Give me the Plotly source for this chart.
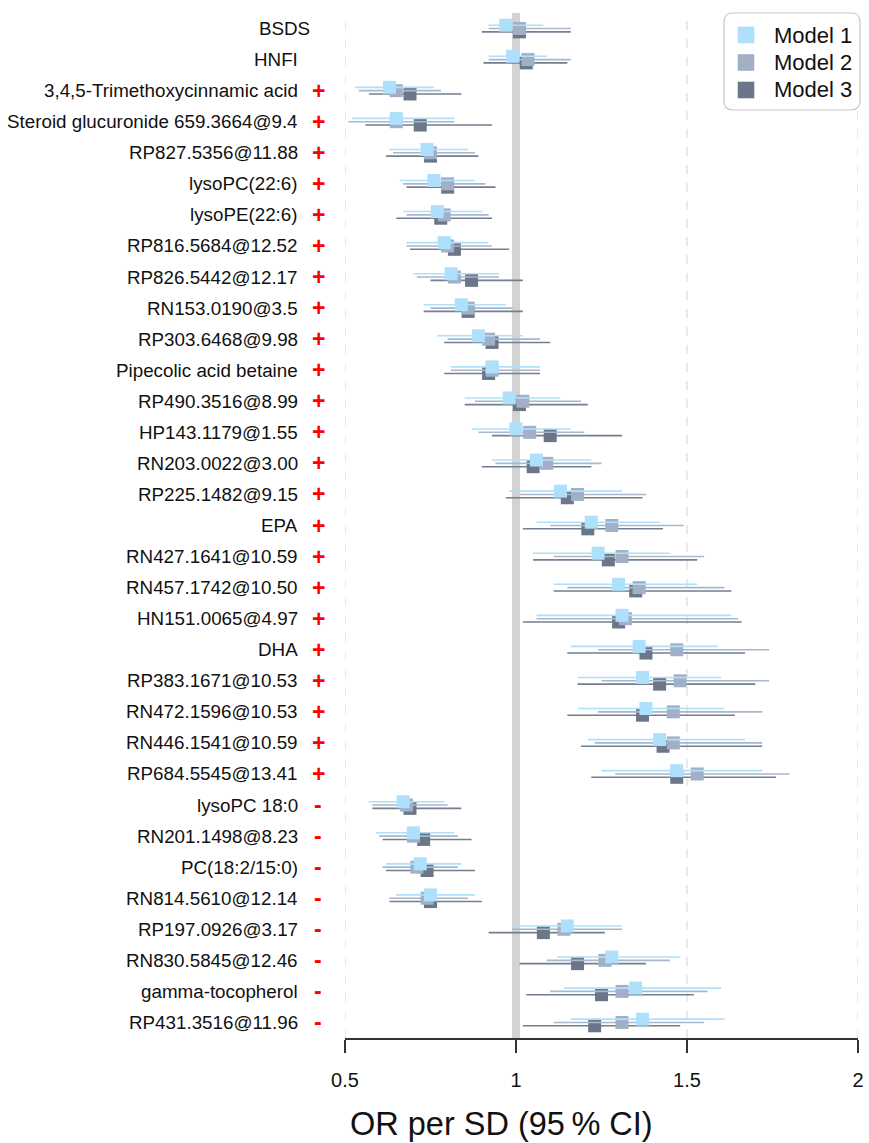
import plotly.graph_objects as go

labels = ["BSDS", "HNFI", "3,4,5-Trimethoxycinnamic acid", "Steroid glucuronide 659.3664@9.4",
          "RP827.5356@11.88", "lysoPC(22:6)", "lysoPE(22:6)", "RP816.5684@12.52",
          "RP826.5442@12.17", "RN153.0190@3.5", "RP303.6468@9.98", "Pipecolic acid betaine",
          "RP490.3516@8.99", "HP143.1179@1.55", "RN203.0022@3.00", "RP225.1482@9.15", "EPA",
          "RN427.1641@10.59", "RN457.1742@10.50", "HN151.0065@4.97", "DHA",
          "RP383.1671@10.53", "RN472.1596@10.53", "RN446.1541@10.59", "RP684.5545@13.41",
          "lysoPC 18:0", "RN201.1498@8.23", "PC(18:2/15:0)", "RN814.5610@12.14",
          "RP197.0926@3.17", "RN830.5845@12.46", "gamma-tocopherol", "RP431.3516@11.96"]
signs = ["", ""] + ["+"] * 23 + ["-"] * 8

m1_or = [0.97, 0.99, 0.63, 0.65, 0.74, 0.76, 0.77, 0.79, 0.81, 0.84, 0.89, 0.93, 0.98, 1.00, 1.06, 1.13, 1.22,
         1.24, 1.30, 1.31, 1.36, 1.37, 1.38, 1.42, 1.47, 0.67, 0.70, 0.72, 0.75, 1.15, 1.28, 1.35, 1.37]
m1_lo = [0.92, 0.92, 0.53, 0.52, 0.63, 0.66, 0.67, 0.68, 0.70, 0.73, 0.77, 0.81, 0.85, 0.87, 0.93, 0.98, 1.06,
         1.05, 1.11, 1.06, 1.16, 1.18, 1.18, 1.21, 1.25, 0.57, 0.59, 0.62, 0.65, 1.00, 1.12, 1.14, 1.16]
m1_hi = [1.08, 1.09, 0.76, 0.82, 0.86, 0.88, 0.90, 0.92, 0.95, 0.97, 1.02, 1.07, 1.13, 1.16, 1.22, 1.31, 1.42,
         1.45, 1.53, 1.63, 1.59, 1.60, 1.61, 1.67, 1.72, 0.79, 0.82, 0.84, 0.88, 1.31, 1.48, 1.60, 1.61]

m2_or = [1.01, 1.035, 0.65, 0.65, 0.75, 0.80, 0.79, 0.80, 0.82, 0.86, 0.92, 0.93, 1.02, 1.04, 1.09, 1.18, 1.28,
         1.31, 1.36, 1.32, 1.47, 1.48, 1.46, 1.46, 1.53, 0.68, 0.70, 0.71, 0.74, 1.14, 1.26, 1.31, 1.31]
m2_lo = [0.92, 0.92, 0.54, 0.51, 0.64, 0.67, 0.68, 0.68, 0.71, 0.75, 0.80, 0.81, 0.88, 0.89, 0.94, 1.01, 1.10,
         1.11, 1.15, 1.06, 1.24, 1.25, 1.24, 1.23, 1.29, 0.58, 0.60, 0.61, 0.63, 0.99, 1.09, 1.10, 1.11]
m2_hi = [1.16, 1.16, 0.78, 0.82, 0.88, 0.91, 0.92, 0.93, 0.95, 0.99, 1.07, 1.07, 1.19, 1.20, 1.25, 1.38, 1.49,
         1.55, 1.61, 1.65, 1.74, 1.74, 1.72, 1.72, 1.80, 0.80, 0.83, 0.83, 0.86, 1.31, 1.45, 1.56, 1.55]

m3_or = [1.01, 1.03, 0.69, 0.72, 0.75, 0.80, 0.78, 0.82, 0.87, 0.86, 0.93, 0.92, 1.01, 1.10, 1.05, 1.15, 1.21,
         1.27, 1.35, 1.30, 1.38, 1.42, 1.37, 1.43, 1.47, 0.69, 0.73, 0.74, 0.75, 1.08, 1.18, 1.25, 1.23]
m3_lo = [0.90, 0.905, 0.57, 0.56, 0.62, 0.68, 0.65, 0.69, 0.75, 0.73, 0.79, 0.79, 0.85, 0.93, 0.90, 0.97, 1.02,
         1.05, 1.11, 1.02, 1.15, 1.18, 1.15, 1.19, 1.22, 0.58, 0.61, 0.62, 0.63, 0.92, 1.01, 1.03, 1.02]
m3_hi = [1.16, 1.15, 0.84, 0.93, 0.89, 0.94, 0.93, 0.98, 1.02, 1.02, 1.10, 1.07, 1.21, 1.31, 1.22, 1.37, 1.43,
         1.53, 1.63, 1.66, 1.67, 1.70, 1.64, 1.72, 1.76, 0.84, 0.87, 0.88, 0.90, 1.26, 1.38, 1.52, 1.48]

x_ticks = [0.5, 1, 1.5, 2]
x_tick_text = ["0.5", "1", "1.5", "2"]
model_names = ["Model 1", "Model 2", "Model 3"]

FONT = "Liberation Sans, Arial, sans-serif"
OFS = 0  # page body margin (removed via post_script)
W, H = 869 - OFS, 1143 - OFS
ML, MR, MT = 345 - OFS, 11, 13 - OFS
MB = H - (1038 - OFS)
PW, PH = W - ML - MR, H - MT - MB
n = len(labels)
rows = list(range(n))
off = 0.107


def px(page_x):
    return (page_x - OFS - ML) / PW


def py(page_y):
    return (H - MB - (page_y - OFS)) / PH


models = [
    dict(name=model_names[0], orv=m1_or, lo=m1_lo, hi=m1_hi, dy=-off, mcol="#AEE0FC", lcol="#AEE0FC"),
    dict(name=model_names[1], orv=m2_or, lo=m2_lo, hi=m2_hi, dy=0.0, mcol="#A2B0C7", lcol="#AAB6CA"),
    dict(name=model_names[2], orv=m3_or, lo=m3_lo, hi=m3_hi, dy=off, mcol="#6B7688", lcol="#737E8F"),
]

fig = go.Figure()
for m in reversed(models):
    xs, ys = [], []
    for i in rows:
        xs += [m["lo"][i], m["hi"][i], None]
        ys += [i + m["dy"], i + m["dy"], None]
    fig.add_trace(go.Scatter(x=xs, y=ys, mode="lines", line=dict(color=m["lcol"], width=1.6),
                             showlegend=False, hoverinfo="skip"))
    fig.add_trace(go.Scatter(x=m["orv"], y=[i + m["dy"] for i in rows], mode="markers",
                             marker=dict(symbol="square", size=13, color=m["mcol"], line=dict(width=0)),
                             showlegend=False, name=m["name"]))

# dashed vertical gridlines (including the range edges)
for t in x_ticks:
    if t == 1:
        continue
    fig.add_shape(type="line", x0=t, x1=t, y0=0, y1=1, xref="x", yref="paper",
                  line=dict(color="#D4D4D4", width=1, dash="dash"), layer="below")
# reference band at 1
fig.add_shape(type="line", x0=1, x1=1, y0=0, y1=1, xref="x", yref="paper",
              line=dict(color="#D3D3D3", width=8), layer="below")

ann = []
for i in rows:
    ann.append(dict(x=px(312 if labels[i] == "BSDS" else 300), xref="paper",
                    y=i, yref="y", text=labels[i], showarrow=False, xanchor="right", yanchor="middle",
                    font=dict(family=FONT, size=18.8, color="#111111")))
    if signs[i]:
        ann.append(dict(x=px(318), xref="paper", y=i, yref="y", text="<b>" + signs[i] + "</b>",
                        showarrow=False, xanchor="center", yanchor="middle",
                        font=dict(family=FONT, size=23, color="#FF0000")))
ann.append(dict(x=px(348), xref="paper", y=py(1124), yref="paper",
                text="OR per SD (95\u2009% CI)", showarrow=False, xanchor="left", yanchor="middle",
                font=dict(family=FONT, size=32.5, color="#111111")))

# rounded legend box
bx0, by0, bx1, by1, r = 724, 13, 860, 110, 9


def P(a, b):
    return f"{px(a):.5f},{py(b):.5f}"


path = (f"M {P(bx0 + r, by0)} L {P(bx1 - r, by0)} Q {P(bx1, by0)} {P(bx1, by0 + r)} "
        f"L {P(bx1, by1 - r)} Q {P(bx1, by1)} {P(bx1 - r, by1)} L {P(bx0 + r, by1)} "
        f"Q {P(bx0, by1)} {P(bx0, by1 - r)} L {P(bx0, by0 + r)} Q {P(bx0, by0)} {P(bx0 + r, by0)} Z")
fig.add_shape(type="path", path=path, xref="paper", yref="paper",
              line=dict(color="#C8C8C8", width=1.2), fillcolor="white", layer="above")

# legend entries (manual)
leg_y = [35, 62.5, 90]
for m, yy in zip(models, leg_y):
    fig.add_shape(type="rect", xref="paper", yref="paper",
                  x0=px(746 - 8.3), x1=px(746 + 8.3), y0=py(yy + 8.3), y1=py(yy - 8.3),
                  fillcolor=m["mcol"], line=dict(width=0), layer="above")
    ann.append(dict(x=px(772), xref="paper", y=py(yy), yref="paper", text=m["name"],
                    showarrow=False, xanchor="left", yanchor="middle",
                    font=dict(family=FONT, size=22, color="#111111")))

fig.update_layout(
    width=W, height=H,
    margin=dict(l=ML, r=MR, t=MT, b=MB, autoexpand=False),
    plot_bgcolor="white", paper_bgcolor="white",
    font=dict(family=FONT, color="#111111"),
    showlegend=False,
    annotations=ann,
    xaxis=dict(range=[0.5, 2.0], tickvals=x_ticks, ticktext=x_tick_text, showgrid=False,
               zeroline=False, automargin=False, ticklabeloverflow="allow",
               showline=True, linecolor="#333333", linewidth=1.5, ticks="outside",
               ticklen=13, tickwidth=1.5, tickcolor="#333333",
               tickfont=dict(family=FONT, size=20, color="#111111"), ticklabelstandoff=10),
    yaxis=dict(range=[n - 0.5, -0.5], showticklabels=False, showgrid=False, zeroline=False,
               showline=False, ticks="", automargin=False),
)

fig.write_html("out.html", config={"displayModeBar": False},
               post_script="document.body.style.margin='0';document.body.style.overflow='hidden';")
